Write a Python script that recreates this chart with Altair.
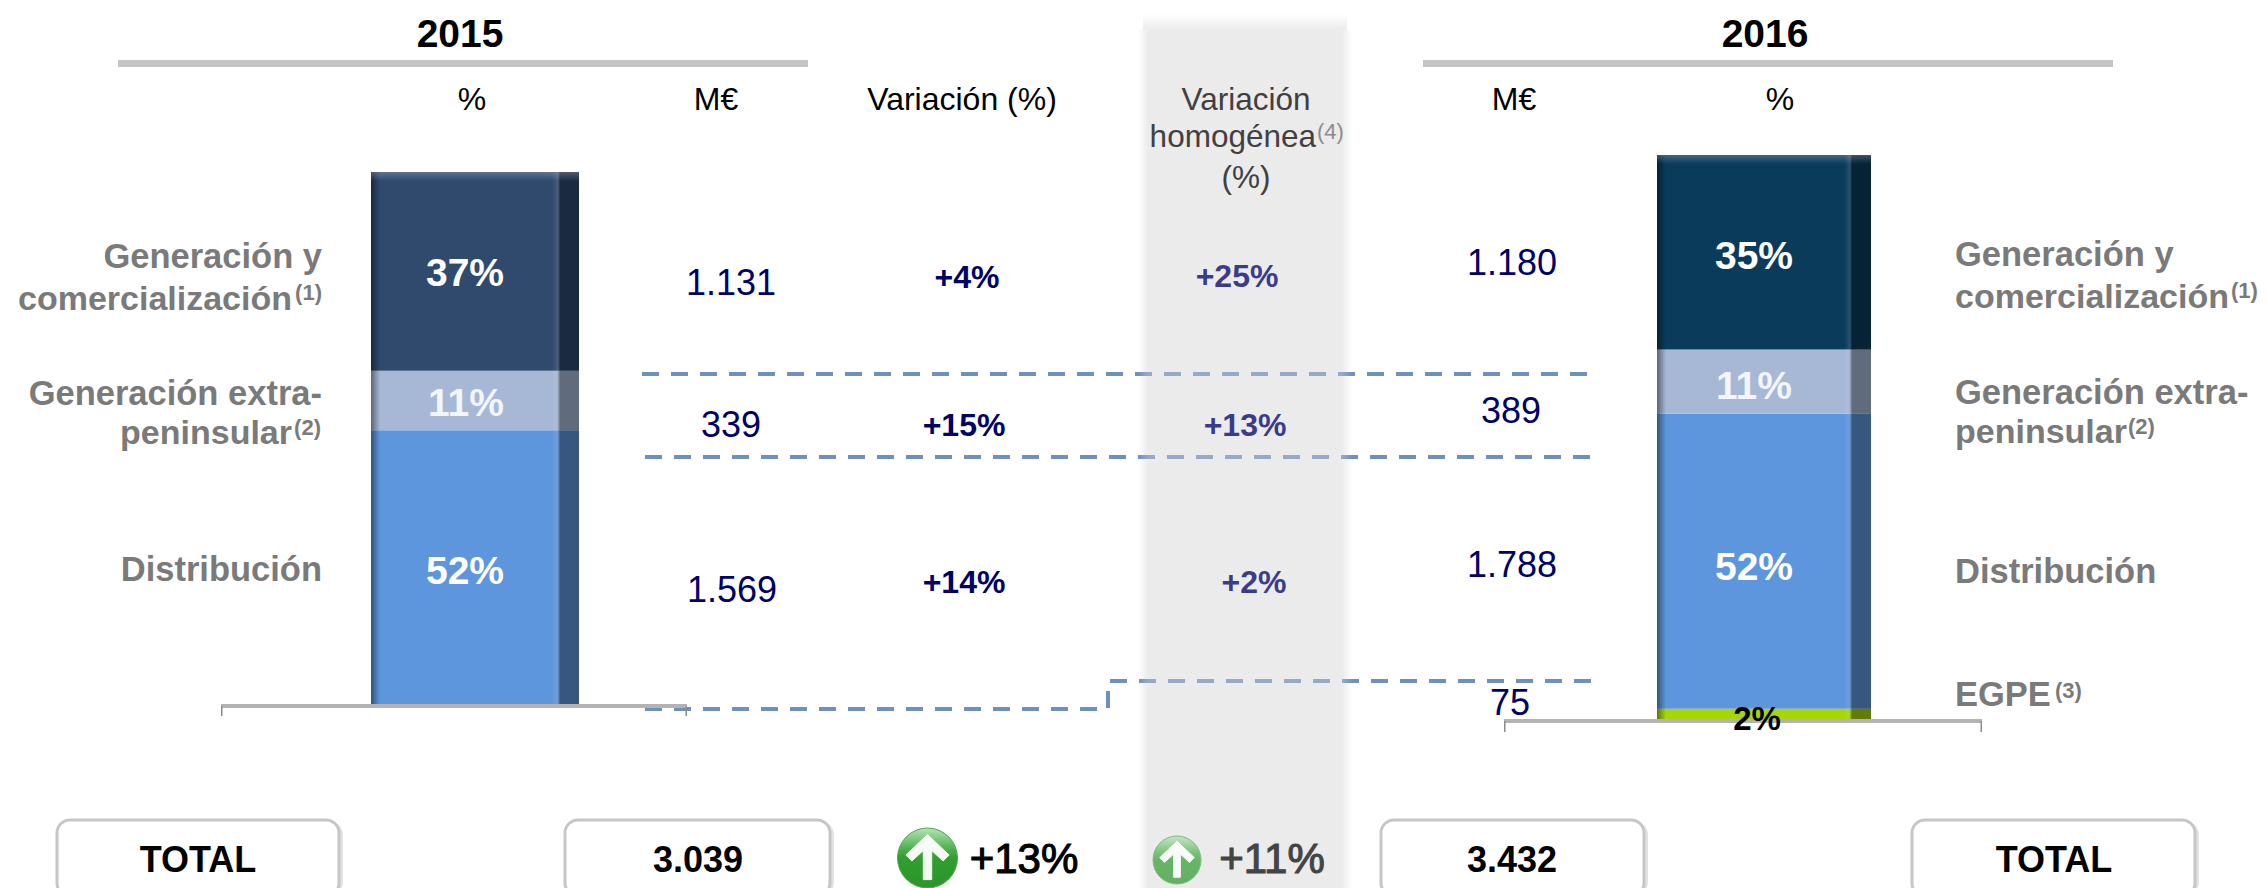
import altair as alt
import pandas as pd
import numpy as np

# ---------- data ----------
segments_2015 = ["Distribución", "Generación extra-peninsular", "Generación y comercialización"]
values_2015 = [1569, 339, 1131]
colors_2015 = ["#5E96DD", "#A6B8D6", "#2F4A6D"]
total_2015 = "3.039"

segments_2016 = ["EGPE", "Distribución", "Generación extra-peninsular", "Generación y comercialización"]
values_2016 = [75, 1788, 389, 1180]
colors_2016 = ["#A6D608", "#5E96DD", "#A6B8D6", "#0B3B5B"]
total_2016 = "3.432"

# ---------- layout helpers (picture pixel -> chart pixel: page margin is 8) ----------
M = 8
NAVY = "#000066"
GREY = "#7A7A7A"
HOM = "#3B3B8B"
SANS = "Liberation Sans"
W, H = 2251, 880


def T(text, x, y, size, color="black", bold=False, align="center", stroke=None, opacity=None):
    kw = dict(font=SANS, fontSize=size, color=color, align=align, baseline="alphabetic",
              fontWeight="bold" if bold else "normal")
    if stroke:
        kw.update(stroke=color, strokeWidth=stroke)
    if opacity is not None:
        kw.update(opacity=opacity)
    return alt.Chart(pd.DataFrame({"t": [text]})).mark_text(**kw).encode(
        text="t:N", x=alt.value(x - M), y=alt.value(y - M))


def one():
    return alt.Chart(pd.DataFrame({"a": [0]}))


def R(x0, x1, y0, y1, **mark):
    return one().mark_rect(**mark).encode(
        x=alt.value(x0 - M), x2=alt.value(x1 - M), y=alt.value(y0 - M), y2=alt.value(y1 - M))


def grad(stops, vertical=False):
    return alt.Gradient(gradient="linear",
                        stops=[alt.GradientStop(color=c, offset=o) for o, c in stops],
                        x1=0, y1=0, x2=0 if vertical else 1, y2=1 if vertical else 0)


def stack(values, colors, x0, x1, ybottom, ytop):
    lo = np.concatenate([[0], np.cumsum(values)[:-1]])
    hi = np.cumsum(values)
    df = pd.DataFrame({"lo": lo, "hi": hi, "c": colors})
    sc = alt.Scale(domain=[0, int(hi[-1])], range=[ybottom - M, ytop - M], nice=False, zero=False)
    base = alt.Chart(df).mark_rect().encode(
        x=alt.value(x0 - M), x2=alt.value(x1 - M),
        y=alt.Y("lo:Q", scale=sc, axis=None), y2="hi:Q",
        fill=alt.Fill("c:N", scale=None, legend=None))
    w = x1 - x0
    sheen = grad([(0, "rgba(0,0,0,0.45)"), (9 / w, "rgba(0,0,0,0)"),
                  ((w - 27) / w, "rgba(255,255,255,0)"), ((w - 23) / w, "rgba(255,255,255,0.07)"),
                  ((w - 19) / w, "rgba(0,0,0,0.42)"), (1, "rgba(0,0,0,0.42)")])
    over = alt.Chart(df).mark_rect(fill=sheen).encode(
        x=alt.value(x0 - M), x2=alt.value(x1 - M),
        y=alt.Y("lo:Q", scale=sc, axis=None), y2="hi:Q")
    top = R(x0, x1, ytop - 1, ytop + 9,
            fill=grad([(0, "rgba(255,255,255,0.25)"), (1, "rgba(255,255,255,0)")], vertical=True))
    return [base, over, top]


layers = []

# dashed connectors (below the shaded band, which veils them)
DASH = dict(stroke="#6F8FBE", strokeWidth=4, strokeDash=[17, 12])
def dashed(points):
    df = pd.DataFrame({"x": [p[0] for p in points], "y": [p[1] for p in points], "o": range(len(points))})
    return alt.Chart(df).mark_line(**DASH).encode(
        x=alt.X("x:Q", scale=alt.Scale(domain=[M, M + W], range=[0, W], nice=False, zero=False), axis=None),
        y=alt.Y("y:Q", scale=alt.Scale(domain=[M, M + H], range=[0, H], nice=False, zero=False), axis=None),
        order="o:Q")

layers += [dashed([(642, 374), (1592, 374)]),
           dashed([(645, 457), (1592, 457)]),
           dashed([(645, 709), (1108, 709), (1108, 681), (1593, 681)])]

# shaded band
BAND = "rgba(207,207,207,0.41)"
BAND0 = "rgba(207,207,207,0)"
layers.append(R(1138, 1352, 30, 888,
                fill=grad([(0, BAND0), (10 / 214, BAND), (204 / 214, BAND), (1, BAND0)])))
layers.append(R(1143, 1347, 14, 30,
                fill=grad([(0, "rgba(207,207,207,0)"), (1, "rgba(207,207,207,0.41)")], vertical=True)))

# header rules
layers.append(R(118, 808, 60, 67, fill="#C4C4C4"))
layers.append(R(1423, 2113, 60, 67, fill="#C4C4C4"))

# stacked bars
layers += stack(values_2015, colors_2015, 371, 579, 706, 172)
layers += stack(values_2016, colors_2016, 1657, 1871, 721, 155)

# baselines with end ticks
for x0, x1, y, tick in [(221, 687, 706, 716), (1504, 1982, 721, 732)]:
    layers.append(R(x0, x1, y - 2, y + 2, fill="#B3B3B3"))
    layers.append(R(x0, x0 + 1.5, y, tick, fill="#8C8C8C"))
    layers.append(R(x1 - 1.5, x1, y, tick, fill="#8C8C8C"))

# total boxes
for x0, x1 in [(57, 339), (565, 830), (1381, 1644), (1912, 2195)]:
    layers.append(R(x0 + 1, x1 + 4, 821, 896, fill="#E2E2E2", cornerRadius=14))
    layers.append(R(x0, x1, 820, 896, fill="white", stroke="#C6C6C6", strokeWidth=3, cornerRadius=13))

# up arrows
ARROW = "M0,-0.78 L0.72,-0.1 L0.52,0.1 L0.14,-0.25 L0.14,0.72 L-0.14,0.72 L-0.14,-0.25 L-0.52,0.1 L-0.72,-0.1 Z"
def arrow(x, y, d, opacity):
    g = grad([(0, "#B7E2B7"), (0.35, "#4DB04D"), (0.5, "#2F9E2F"), (1, "#2C962C")], vertical=True)
    ball = one().mark_point(filled=True, shape="circle", size=d * d, fill=g, stroke="#4FA84F",
                            strokeWidth=1, opacity=opacity).encode(x=alt.value(x - M), y=alt.value(y - M))
    head = one().mark_point(filled=True, shape=ARROW, size=d * d, fill="white", stroke="white",
                            strokeWidth=1, strokeJoin="round", opacity=0.95).encode(x=alt.value(x - M), y=alt.value(y - M))
    return [ball, head]

layers += arrow(927.5, 858, 60, 1)
layers += arrow(1177, 860, 48, 0.7)

# headers
layers += [T("2015", 460, 47, 39, bold=True), T("2016", 1765, 47, 39, bold=True),
           T("%", 472, 110, 32), T("M€", 716, 110, 32), T("Variación (%)", 962, 110, 32),
           T("M€", 1514, 110, 32), T("%", 1780, 110, 32),
           T("Variación", 1246, 110, 31.5, color="#404040"),
           T("homogénea", 1316, 147, 31.5, color="#404040", align="right"),
           T("(4)", 1317, 139, 22, color="#8C8C8C", align="left"),
           T("(%)", 1246, 188, 31.5, color="#404040")]

# left row labels
LS = 34.5
LC = 34
SUP = 22
layers += [T("Generación y", 322, 268, LS, GREY, True, "right"),
           T("comercialización", 292, 310, LC, GREY, True, "right"),
           T("(1)", 322, 300, SUP, GREY, True, "right"),
           T("Generación extra-", 322, 405, LS, GREY, True, "right"),
           T("peninsular", 292, 444, LC, GREY, True, "right"),
           T("(2)", 321, 435, SUP, GREY, True, "right"),
           T("Distribución", 322, 581, LS, GREY, True, "right")]
# right row labels
layers += [T("Generación y", 1955, 266, LS, GREY, True, "left"),
           T("comercialización", 1955, 308, LC, GREY, True, "left"),
           T("(1)", 2231, 298, SUP, GREY, True, "left"),
           T("Generación extra-", 1955, 404, LS, GREY, True, "left"),
           T("peninsular", 1955, 443, LC, GREY, True, "left"),
           T("(2)", 2128, 434, SUP, GREY, True, "left"),
           T("Distribución", 1955, 583, LS, GREY, True, "left"),
           T("EGPE", 1955, 706, LS, GREY, True, "left"),
           T("(3)", 2055, 698, SUP, GREY, True, "left")]

# percentages on bars
layers += [T("37%", 465, 286, 39, "white", True),
           T("11%", 466, 416, 39, "#F2F5FA", True),
           T("52%", 465, 584, 39, "white", True),
           T("35%", 1754, 269, 39, "white", True),
           T("11%", 1754, 399, 39, "#F2F5FA", True),
           T("52%", 1754, 580, 39, "white", True),
           T("2%", 1757, 730, 33, "black", True)]

# M€ values
layers += [T("1.131", 731, 295, 36, NAVY), T("339", 731, 437, 36, NAVY), T("1.569", 732, 602, 36, NAVY),
           T("1.180", 1512, 275, 36, NAVY), T("389", 1511, 423, 36, NAVY),
           T("1.788", 1512, 577, 36, NAVY), T("75", 1510, 715, 36, NAVY)]

# variations
layers += [T("+4%", 967, 288, 32, NAVY, True), T("+15%", 964, 436, 32, NAVY, True), T("+14%", 964, 593, 32, NAVY, True),
           T("+25%", 1237, 287, 32, HOM, True), T("+13%", 1245, 436, 32, HOM, True), T("+2%", 1254, 593, 32, HOM, True)]

# totals
layers += [T("TOTAL", 198, 872, 36, bold=True), T(total_2015, 698, 872, 36, bold=True),
           T(total_2016, 1512, 872, 36, bold=True), T("TOTAL", 2054, 872, 36, bold=True),
           T("+13%", 1024, 873, 42, stroke=1.1), T("+11%", 1272, 873, 42, color="#444444", stroke=1.1)]

chart = alt.layer(*layers).resolve_scale(x="independent", y="independent").properties(
    width=W, height=H, padding=0, autosize=alt.AutoSizeParams(type="none"),
    background="white"
).configure_view(stroke=None)

chart.save("out.html", embed_options={"renderer": "svg", "actions": False})
